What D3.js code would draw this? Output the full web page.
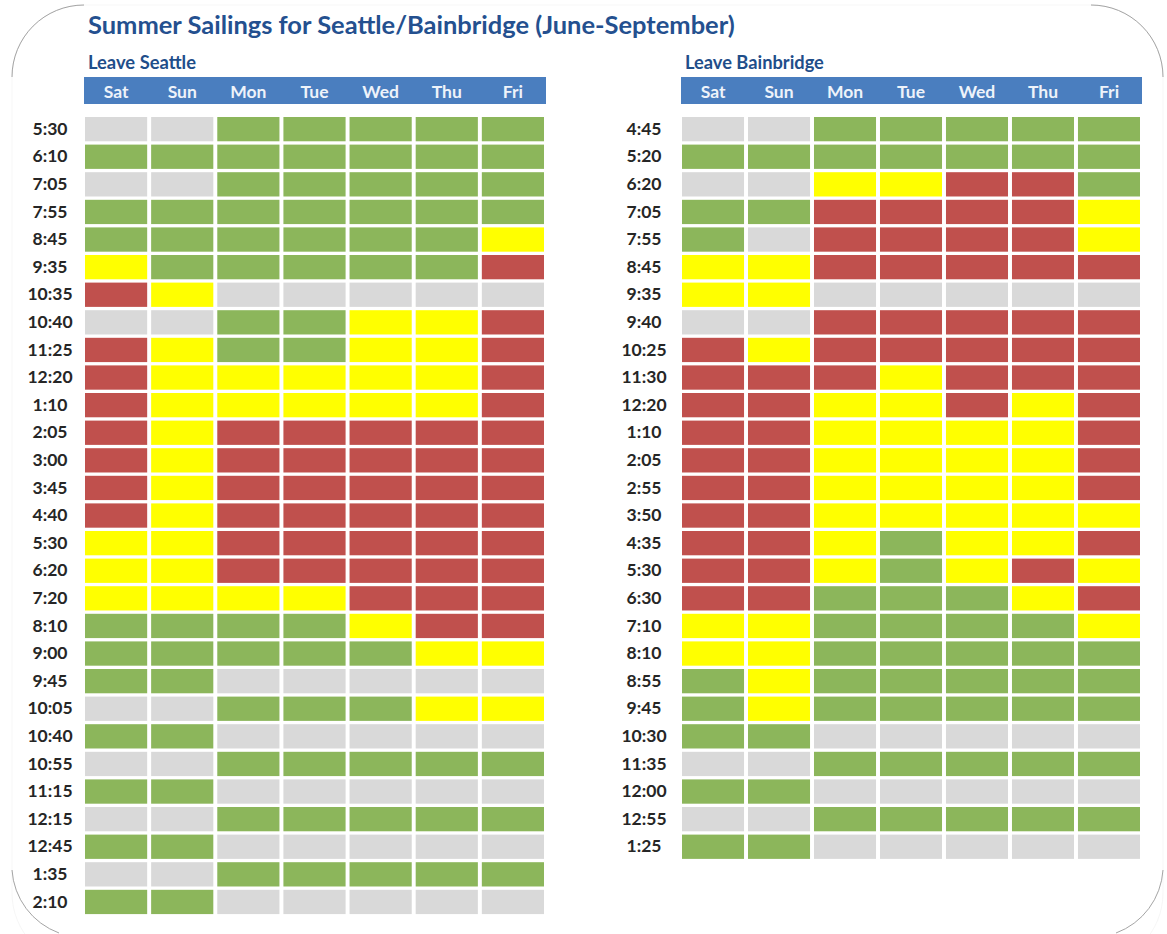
<!DOCTYPE html>
<html>
<head>
<meta charset="utf-8">
<script src="https://cdn.jsdelivr.net/npm/d3@7"></script>
<style>
  html, body { margin: 0; padding: 0; background: #ffffff; }
  svg { display: block; }
  text { font-family: Lato, "Open Sans", "Liberation Sans", sans-serif; }
</style>
</head>
<body>
<svg id="chart" width="1167" height="934"></svg>
<script>
// ---------- DATA ----------
const title = "Summer Sailings for Seattle/Bainbridge (June-September)";
const days = ["Sat", "Sun", "Mon", "Tue", "Wed", "Thu", "Fri"];

// Status codes: G = green, Y = yellow, R = red, N = no sailing (gray)
const seattleTitle = "Leave Seattle";
const seattleTimes = ["5:30","6:10","7:05","7:55","8:45","9:35","10:35","10:40","11:25","12:20",
  "1:10","2:05","3:00","3:45","4:40","5:30","6:20","7:20","8:10","9:00",
  "9:45","10:05","10:40","10:55","11:15","12:15","12:45","1:35","2:10"];
const seattleStatus = [
  "NNGGGGG","GGGGGGG","NNGGGGG","GGGGGGG","GGGGGGY","YGGGGGR","RYNNNNN","NNGGYYR",
  "RYGGYYR","RYYYYYR","RYYYYYR","RYRRRRR","RYRRRRR","RYRRRRR","RYRRRRR","YYRRRRR",
  "YYRRRRR","YYYYRRR","GGGGYRR","GGGGGYY","GGNNNNN","NNGGGYY","GGNNNNN","NNGGGGG",
  "GGNNNNN","NNGGGGG","GGNNNNN","NNGGGGG","GGNNNNN"
];

const bainbridgeTitle = "Leave Bainbridge";
const bainbridgeTimes = ["4:45","5:20","6:20","7:05","7:55","8:45","9:35","9:40","10:25","11:30",
  "12:20","1:10","2:05","2:55","3:50","4:35","5:30","6:30","7:10","8:10",
  "8:55","9:45","10:30","11:35","12:00","12:55","1:25"];
const bainbridgeStatus = [
  "NNGGGGG","GGGGGGG","NNYYRRG","GGRRRRY","GNRRRRY","YYRRRRR","YYNNNNN","NNRRRRR",
  "RYRRRRR","RRRYRRR","RRYYRYR","RRYYYYR","RRYYYYR","RRYYYYR","RRYYYYY","RRYGYYR",
  "RRYGYRY","RRGGGYR","YYGGGGY","YYGGGGG","GYGGGGG","GYGGGGG","GGNNNNN","NNGGGGG",
  "GGNNNNN","NNGGGGG","GGNNNNN"
];

const statusCodes = ["G", "Y", "R", "N"];
const statusColors = ["#8cb65b", "#ffff00", "#c0504d", "#d9d9d9"];

// ---------- DRAW ----------
const svg = d3.select("#chart");
const color = d3.scaleOrdinal().domain(statusCodes).range(statusColors);

function fitText(sel, baseSize, targetWidth) {
  const w = sel.node().getComputedTextLength();
  sel.attr("font-size", baseSize * targetWidth / w);
}

// frame with rounded corners
const frame = svg.append("g");
frame.append("rect")
  .attr("x", 12).attr("y", 5).attr("width", 1151).attr("height", 960)
  .attr("rx", 72).attr("ry", 72)
  .attr("fill", "none").attr("stroke", "#d0d0d0").attr("stroke-width", 0.8).attr("stroke-opacity", 0.25);
const r = 72;
const cornerPaths = [
  `M12,${5 + r} A${r},${r} 0 0 1 ${12 + r},5`,
  `M${1163 - r},5 A${r},${r} 0 0 1 1163,${5 + r}`,
  `M1163,${934 - r + 8} A${r},${r} 0 0 1 ${1163 - r + 25},933`,
  `M${12 + r - 25},933 A${r},${r} 0 0 1 12,${934 - r + 8}`
];
frame.selectAll("path.corner").data(cornerPaths).join("path")
  .attr("class", "corner").attr("d", d => d)
  .attr("fill", "none").attr("stroke", "#9a9a9a").attr("stroke-width", 0.9);

// title
const titleText = svg.append("text")
  .attr("x", 88).attr("y", 34)
  .attr("fill", "#24508f")
  .attr("font-weight", 700)
  .attr("font-size", 24)
  .text(title);
fitText(titleText, 24, 647);

function drawPanel(opts) {
  const { x0, x1, labelX, heading, headingWidth, times, status } = opts;
  const g = svg.append("g");
  const step = 27.6;
  const top = 117;
  const xScale = d3.scaleBand().domain(days).range([x0, x1]).paddingInner(0.06).paddingOuter(0);
  const yScale = d3.scaleBand().domain(d3.range(times.length))
    .range([top, top + times.length * step - 0.12 * step]).paddingInner(0.12).paddingOuter(0);

  // heading
  const h = g.append("text")
    .attr("x", x0 + 3).attr("y", 69)
    .attr("fill", "#1f4e8a").attr("font-weight", 700).attr("font-size", 15)
    .text(heading);
  fitText(h, 15, headingWidth);

  // header bar
  g.append("rect")
    .attr("x", x0 - 1).attr("y", 77)
    .attr("width", (x1 - x0) + 3).attr("height", 27)
    .attr("fill", "#4a7ebf");

  const headerAxis = d3.axisTop(xScale).tickSize(0).tickPadding(0);
  const ha = g.append("g").attr("transform", "translate(0,98)").call(headerAxis);
  ha.select(".domain").remove();
  ha.selectAll("text")
    .attr("fill", "#eef3fa").attr("font-weight", 700).attr("font-size", 17.5)
    .attr("font-family", "Lato, 'Open Sans', sans-serif")
    .attr("dy", 0);

  // row labels
  const rowAxis = d3.axisLeft(yScale).tickSize(0).tickPadding(0).tickFormat(i => times[i]);
  const ra = g.append("g").attr("transform", `translate(${labelX},0)`).call(rowAxis);
  ra.select(".domain").remove();
  ra.selectAll("text")
    .attr("text-anchor", "middle")
    .attr("fill", "#262626").attr("font-weight", 700).attr("font-size", 17.5)
    .attr("font-family", "Lato, 'Open Sans', sans-serif");

  // cells
  const cells = [];
  status.forEach((row, i) => {
    row.split("").forEach((code, j) => cells.push({ row: i, day: days[j], code }));
  });
  g.selectAll("rect.cell").data(cells).join("rect")
    .attr("class", "cell")
    .attr("x", d => xScale(d.day))
    .attr("y", d => yScale(d.row))
    .attr("width", xScale.bandwidth())
    .attr("height", yScale.bandwidth())
    .attr("fill", d => color(d.code));
}

drawPanel({ x0: 85, x1: 544, labelX: 50, heading: seattleTitle, headingWidth: 108, times: seattleTimes, status: seattleStatus });
drawPanel({ x0: 682, x1: 1140, labelX: 644, heading: bainbridgeTitle, headingWidth: 139, times: bainbridgeTimes, status: bainbridgeStatus });
</script>
</body>
</html>
